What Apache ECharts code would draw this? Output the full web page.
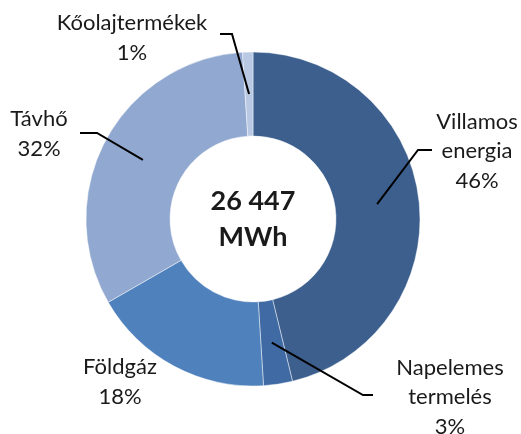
<!DOCTYPE html>
<html>
<head>
<meta charset="utf-8">
<script src="https://cdn.jsdelivr.net/npm/echarts@6/dist/echarts.min.js"></script>
<style>
  html, body { margin: 0; padding: 0; background: #ffffff; }
  #energia { width: 521px; height: 434px; }
</style>
</head>
<body>
<div id="energia"></div>
<script>
// adatok (MWh)
var categories = ['Villamos energia', 'Napelemes termelés', 'Földgáz', 'Távhő', 'Kőolajtermékek'];
var labelNames = ['Villamos\nenergia', 'Napelemes\ntermelés', 'Földgáz', 'Távhő', 'Kőolajtermékek'];
var values = [12218, 740, 4681, 8543, 265];
var colors = ['#3C5F8E', '#3F6AA3', '#4F81BD', '#91A8D0', '#B9C8E3'];
var totalText = '26 447\nMWh';

var cx = 253, cy = 219, rIn = 83, rOut = 167;
var rMid = (rIn + rOut) / 2;

// felirat helye + vezetővonal töréspontjai
var labelPos = [
    { x: 477, y: 151, line: [[418, 150], [432, 150]] },
    { x: 450, y: 397, line: [[363, 395], [373, 395]] },
    { x: 120, y: 382, line: null },
    { x: 39, y: 134, line: [[97, 133], [80, 133]] },
    { x: 132, y: 38, line: [[232, 34], [220, 34]] }
];

var chart = echarts.init(document.getElementById('energia'));
var option = {
    backgroundColor: '#ffffff',
    animation: false,
    graphic: [{
        type: 'text',
        x: cx,
        y: cy,
        style: {
            text: totalText,
            fill: '#1a1a1a',
            font: 'bold 27px Lato, sans-serif',
            lineHeight: 36,
            align: 'center',
            verticalAlign: 'middle'
        }
    }],
    series: [
        // a gyűrű
        {
            type: 'pie',
            z: 2,
            center: [cx, cy],
            radius: [rIn, rOut],
            startAngle: 90,
            clockwise: true,
            silent: true,
            itemStyle: {
                borderColor: 'rgba(255,255,255,0.45)',
                borderWidth: 1
            },
            label: { show: false },
            labelLine: { show: false },
            data: categories.map(function (name, i) {
                return { name: name, value: values[i], itemStyle: { color: colors[i] } };
            })
        },
        // feliratok és vezetővonalak a gyűrű fölött
        {
            type: 'pie',
            z: 3,
            center: [cx, cy],
            radius: [rIn, rOut],
            startAngle: 90,
            clockwise: true,
            silent: true,
            avoidLabelOverlap: false,
            percentPrecision: 0,
            itemStyle: { color: 'rgba(0,0,0,0)', borderWidth: 0 },
            label: {
                show: true,
                position: 'outside',
                fontFamily: 'Lato, sans-serif',
                fontSize: 22,
                lineHeight: 29.5,
                color: '#1a1a1a',
                align: 'center',
                formatter: function (p) {
                    return labelNames[p.dataIndex] + '\n' + p.percent + '%';
                }
            },
            labelLine: {
                show: true,
                lineStyle: { color: '#000000', width: 2 }
            },
            labelLayout: function (params) {
                var pos = labelPos[params.dataIndex];
                var res = { x: pos.x, y: pos.y, align: 'center', verticalAlign: 'middle' };
                if (pos.line && params.labelLinePoints) {
                    var p0 = params.labelLinePoints[0];
                    var dx = p0[0] - cx, dy = p0[1] - cy;
                    var len = Math.sqrt(dx * dx + dy * dy);
                    var anchor = [cx + dx / len * rMid, cy + dy / len * rMid];
                    res.labelLinePoints = [anchor, pos.line[0], pos.line[1]];
                }
                return res;
            },
            data: categories.map(function (name, i) {
                return {
                    name: name,
                    value: values[i],
                    labelLine: { show: labelPos[i].line !== null }
                };
            })
        }
    ]
};
chart.setOption(option);
</script>
</body>
</html>
